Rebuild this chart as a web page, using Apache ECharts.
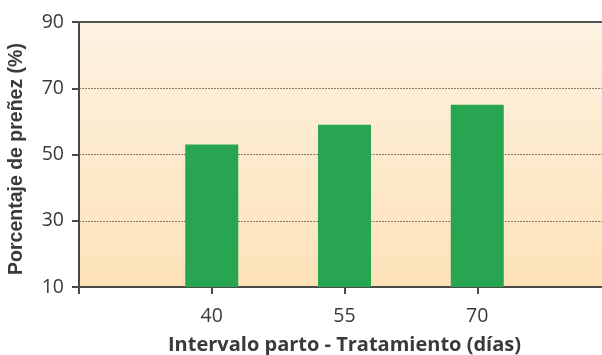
<!DOCTYPE html>
<html>
<head>
<meta charset="utf-8">
<script src="https://cdn.jsdelivr.net/npm/echarts@6/dist/echarts.min.js"></script>
<style>
  html, body { margin: 0; padding: 0; background: #ffffff; }
  #chart { width: 602px; height: 355px; }
</style>
</head>
<body>
<div id="chart"></div>
<script>
// Treatment interval (days) and pregnancy rate (%)
const categories = ['', '40', '55', '70', ''];
const pregnancyRate = [null, 53, 59, 65, null];
const yTicks = [10, 30, 50, 70, 90];

const chart = echarts.init(document.getElementById('chart'), null, { renderer: 'canvas' });

const axisTextColor = '#3a3a3a';
const labelFont = '"Open Sans", Lato, sans-serif';

chart.setOption({
  animation: false,
  grid: {
    left: 79,
    top: 22,
    bottom: 68,
    width: 531,
    containLabel: false,
    outerBoundsMode: 'none',
    show: true,
    borderWidth: 0,
    backgroundColor: new echarts.graphic.LinearGradient(0, 0, 0, 1, [
      { offset: 0, color: '#fdf2e2' },
      { offset: 1, color: '#fde2b8' }
    ])
  },
  xAxis: [
    {
      type: 'category',
      data: categories,
      boundaryGap: false,
      position: 'bottom',
      name: 'Intervalo parto - Tratamiento (días)',
      nameLocation: 'middle',
      nameGap: 48,
      nameTextStyle: {
        fontFamily: labelFont,
        fontWeight: 'bold',
        fontSize: 20,
        color: '#3a3a3a'
      },
      axisLine: { show: true, lineStyle: { color: '#4a4a4a', width: 2 } },
      axisTick: { show: true, length: 7, lineStyle: { color: '#4a4a4a', width: 2 } },
      axisLabel: {
        fontFamily: labelFont,
        fontSize: 19.5,
        color: axisTextColor,
        margin: 19
      },
      splitLine: { show: false }
    },
    {
      type: 'category',
      data: categories,
      boundaryGap: false,
      position: 'top',
      axisLine: { show: true, lineStyle: { color: '#555555', width: 2 } },
      axisTick: { show: false },
      axisLabel: { show: false },
      splitLine: { show: false }
    }
  ],
  yAxis: {
    type: 'value',
    min: yTicks[0],
    max: yTicks[yTicks.length - 1],
    interval: 20,
    name: 'Porcentaje de preñez (%)',
    nameLocation: 'middle',
    nameGap: 52,
    nameRotate: 90,
    nameTextStyle: {
      fontFamily: '"Liberation Sans", Arial, sans-serif',
      fontWeight: 'bold',
      fontSize: 19.5,
      color: '#3a3a3a',
      padding: [0, 9, 0, 0]
    },
    axisLine: { show: true, lineStyle: { color: '#4a4a4a', width: 2 } },
    axisTick: { show: true, length: 7, lineStyle: { color: '#4a4a4a', width: 2 } },
    axisLabel: {
      fontFamily: labelFont,
      fontSize: 19.5,
      color: axisTextColor,
      margin: 15
    },
    splitLine: {
      show: true,
      lineStyle: { color: '#8c7b6a', width: 1, type: [2, 1] }
    }
  },
  series: [
    {
      type: 'bar',
      data: pregnancyRate,
      barWidth: 53,
      itemStyle: { color: '#27a550' },
      xAxisIndex: 0
    }
  ]
});
</script>
</body>
</html>
